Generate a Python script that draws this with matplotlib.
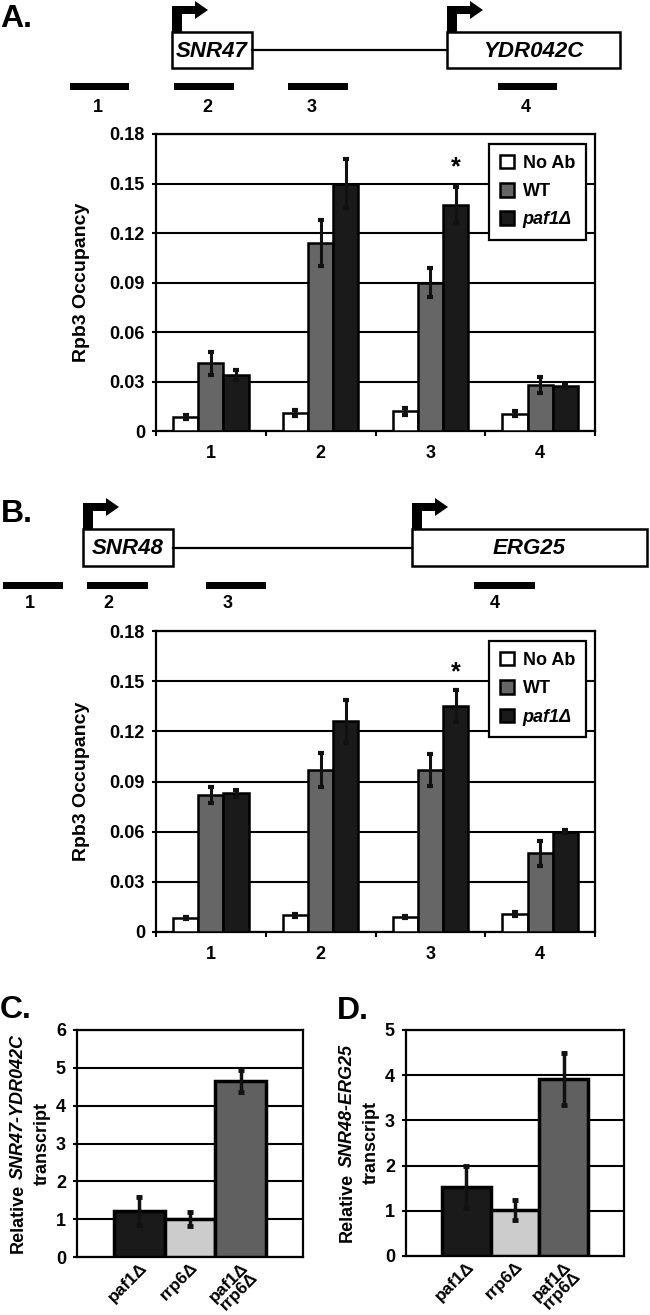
import numpy as np
import matplotlib.pyplot as plt
from matplotlib.patches import Rectangle, Polygon

plt.rcParams['font.family'] = ['Liberation Sans', 'DejaVu Sans']
plt.rcParams['font.weight'] = 'bold'
plt.rcParams['axes.labelweight'] = 'bold'

W, H = 650, 1315

# ChIP occupancy data (panels A and B)
sites = ['1', '2', '3', '4']
series = ['No Ab', 'WT', 'paf1Δ']
series_colors = ['white', '#666666', '#1a1a1a']
occ_ticks = [0, 0.03, 0.06, 0.09, 0.12, 0.15, 0.18]
occ_ticklabels = ['0', '0.03', '0.06', '0.09', '0.12', '0.15', '0.18']

occ_a = [[0.0085, 0.011, 0.012, 0.0105],
         [0.041, 0.114, 0.090, 0.028],
         [0.034, 0.150, 0.137, 0.027]]
err_a = [[0.001, 0.002, 0.002, 0.0015],
         [0.007, 0.014, 0.009, 0.005],
         [0.003, 0.015, 0.011, 0.001]]
occ_b = [[0.0085, 0.010, 0.009, 0.011],
         [0.082, 0.097, 0.097, 0.047],
         [0.083, 0.126, 0.135, 0.060]]
err_b = [[0.0006, 0.001, 0.0007, 0.0012],
         [0.005, 0.010, 0.0095, 0.0075],
         [0.002, 0.013, 0.0095, 0.001]]
star_a = 0.160
star_b = 0.155

# transcript data (panels C and D)
strains = ['paf1Δ', 'rrp6Δ', 'paf1Δ\nrrp6Δ']
strain_colors = ['#1a1a1a', '#cccccc', '#606060']
trans_c = [1.22, 1.01, 4.65]
trans_c_err = [0.37, 0.19, 0.30]
trans_d = [1.53, 1.02, 3.91]
trans_d_err = [0.47, 0.22, 0.58]

# gene diagrams (pixel coordinates across the figure width)
genes_a = [('SNR47', 172, 252), ('YDR042C', 447, 620)]
amps_a = [(70, 129), (174, 234), (288, 348), (498, 557)]
amp_lab_a = [98, 207, 312, 526]
genes_b = [('SNR48', 83, 173), ('ERG25', 412, 647)]
amps_b = [(3, 63), (87, 148), (206, 266), (474, 535)]
amp_lab_b = [30, 108, 228, 495]


def add_ax(fig, x0, y0, x1, y1):
    return fig.add_axes([x0 / W, 1 - y1 / H, (x1 - x0) / W, (y1 - y0) / H])


def draw_diagram(ov, genes, amps, lab_x, top, bot, amp_y, lab_y):
    mid = (top + bot) / 2
    ov.plot([genes[0][2], genes[1][1]], [mid, mid], color='k', lw=1.6)
    for name, x0, x1 in genes:
        ov.add_patch(Rectangle((x0, top), x1 - x0, bot - top, fc='white', ec='k', lw=1.8))
        ov.text((x0 + x1) / 2, mid + 1, name, style='italic', fontsize=16,
                ha='center', va='center')
        ov.add_patch(Rectangle((x0, top - 26), 9.5, 26, fc='k', lw=0))
        ov.add_patch(Rectangle((x0, top - 26), 23, 8, fc='k', lw=0))
        ov.add_patch(Polygon([(x0 + 23, top - 31), (x0 + 23, top - 13),
                              (x0 + 36, top - 22)], fc='k', lw=0))
    for (a0, a1), lx, lab in zip(amps, lab_x, sites):
        ov.add_patch(Rectangle((a0, amp_y), a1 - a0, 7, fc='k', lw=0))
        ov.text(lx, lab_y, lab, fontsize=13, ha='center', va='center')


def style_axes(ax):
    for sp in ax.spines.values():
        sp.set_linewidth(1.6)
    ax.yaxis.grid(True, color='k', lw=1.5)
    ax.set_axisbelow(True)
    ax.tick_params(axis='y', direction='out', length=3, width=1.5, pad=5, labelsize=13)


def occupancy_panel(ax, occ, err, star):
    x = np.arange(len(sites))
    w = 0.23
    for i in range(3):
        xs = x + (i - 1) * w
        ax.bar(xs, occ[i], w, color=series_colors[i], edgecolor='k', lw=1.8,
               label=series[i], zorder=3)
        ax.errorbar(xs, occ[i], yerr=err[i], fmt='none', ecolor='#111111',
                    elinewidth=2.2, capsize=2.5, capthick=3, zorder=4)
    ax.text(x[2] + w, star, '*', ha='center', va='center', fontsize=18)
    ax.set_xlim(-0.5, len(sites) - 0.5)
    ax.set_ylim(0, occ_ticks[-1])
    ax.set_yticks(occ_ticks)
    ax.set_yticklabels(occ_ticklabels)
    style_axes(ax)
    ax.set_xticks(np.arange(len(sites) + 1) - 0.5)
    ax.set_xticklabels([])
    ax.set_xticks(x, minor=True)
    ax.set_xticklabels(sites, minor=True)
    ax.tick_params(axis='x', which='major', direction='out', length=3.5, width=1.5)
    ax.tick_params(axis='x', which='minor', length=0, pad=10, labelsize=13)
    ax.set_ylabel('Rpb3 Occupancy', fontsize=14)
    ax.yaxis.set_label_coords(-0.150, 0.5)
    leg = ax.legend(loc='upper right', bbox_to_anchor=(0.98, 0.967), fancybox=False,
                    edgecolor='k', framealpha=1, fontsize=13, handlelength=0.75,
                    handleheight=0.75, handletextpad=0.5, labelspacing=0.62,
                    borderpad=0.62, borderaxespad=0)
    leg.get_frame().set_linewidth(1.6)
    leg.get_texts()[2].set_fontstyle('italic')


def transcript_panel(ax, vals, errs, top):
    x = np.arange(len(strains))
    ax.bar(x, vals, 1.0, color=strain_colors, edgecolor='k', lw=2.5, zorder=3)
    ax.errorbar(x, vals, yerr=errs, fmt='none', ecolor='#111111',
                elinewidth=2.5, capsize=2.5, capthick=3.5, zorder=4)
    ax.set_xlim(-1.235, len(strains) - 1 + 1.235)
    ax.set_ylim(0, top)
    ax.set_yticks(np.arange(0, top + 1))
    style_axes(ax)
    ax.set_xticks(x)
    ax.set_xticklabels(strains, rotation=45, ha='right', va='top',
                       rotation_mode='anchor', fontsize=12.5, linespacing=0.85)
    ax.tick_params(axis='x', length=0, pad=2)


def mixed_ylabel(fig, ov, ax, plain, italic, fs=13):
    # two-line rotated label: "<plain> <italic>" then "transcript"
    renderer = fig.canvas.get_renderer()
    pos = ax.get_position()
    x_left = pos.x0 * W
    yc = (1 - (pos.y0 + pos.height / 2)) * H
    t1 = ov.text(0, 0, plain, fontsize=fs, rotation=90, rotation_mode='anchor',
                 ha='left', va='center')
    t2 = ov.text(0, 0, italic, fontsize=fs, style='italic', rotation=90,
                 rotation_mode='anchor', ha='left', va='center')
    l1 = t1.get_window_extent(renderer).height
    l2 = t2.get_window_extent(renderer).height
    gap = 0.28 * fs * 100 / 72
    y0 = yc + (l1 + gap + l2) / 2
    t1.set_position((x_left - 59, y0))
    t2.set_position((x_left - 59, y0 - l1 - gap))
    ov.text(x_left - 35, yc, 'transcript', fontsize=fs, rotation=90,
            ha='center', va='center')


fig = plt.figure(figsize=(W / 100, H / 100), dpi=100)
ov = fig.add_axes([0, 0, 1, 1])
ov.set_xlim(0, W)
ov.set_ylim(H, 0)
ov.axis('off')

draw_diagram(ov, genes_a, amps_a, amp_lab_a, 32, 68, 83, 107)
draw_diagram(ov, genes_b, amps_b, amp_lab_b, 529, 566, 582, 603)
ov.text(0, 27, 'A.', fontsize=23, va='baseline')
ov.text(1, 522, 'B.', fontsize=23, va='baseline')
ov.text(0, 1018, 'C.', fontsize=23, va='baseline')
ov.text(337, 1019, 'D.', fontsize=23, va='baseline')

ax_a = add_ax(fig, 156, 134, 595, 431)
occupancy_panel(ax_a, occ_a, err_a, star_a)
ax_b = add_ax(fig, 156, 631, 595, 932)
occupancy_panel(ax_b, occ_b, err_b, star_b)

ax_c = add_ax(fig, 77, 1030, 303, 1257)
transcript_panel(ax_c, trans_c, trans_c_err, 6)
ax_d = add_ax(fig, 406, 1030, 624, 1256)
transcript_panel(ax_d, trans_d, trans_d_err, 5)

mixed_ylabel(fig, ov, ax_c, 'Relative', 'SNR47-YDR042C')
mixed_ylabel(fig, ov, ax_d, 'Relative', 'SNR48-ERG25')

fig.savefig('out.png', dpi=100)
